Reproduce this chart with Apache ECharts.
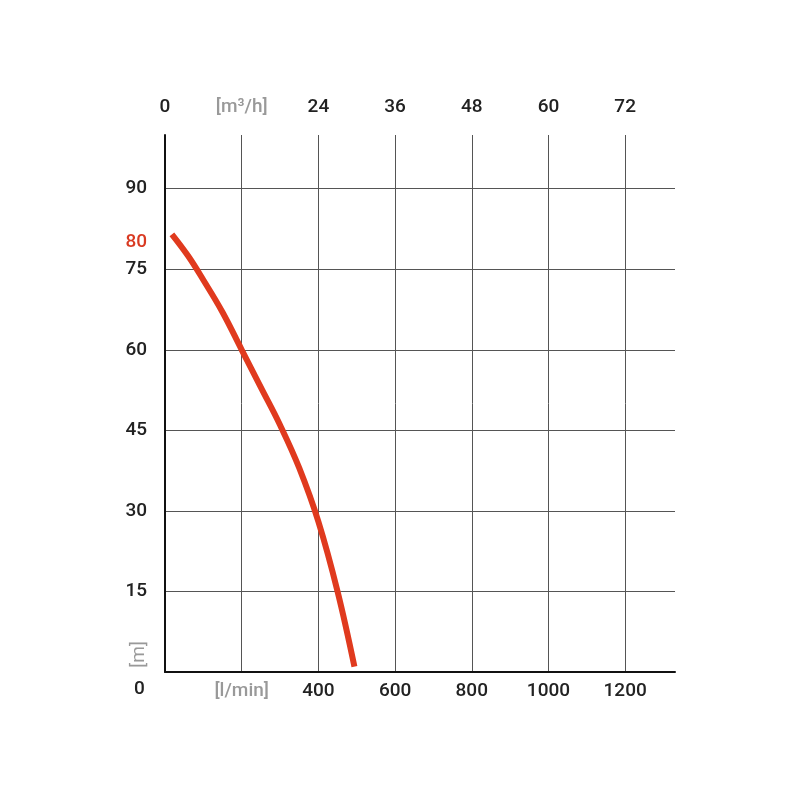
<!DOCTYPE html>
<html>
<head>
<meta charset="utf-8">
<script src="https://cdn.jsdelivr.net/npm/echarts@6/dist/echarts.min.js"></script>
<style>html,body{margin:0;background:#fff}</style>
</head>
<body>
<div id="chart" style="width:800px;height:800px;"></div>
<script>
// pump curve: flow [l/min] vs head [m]
var flowLmin = [18, 60, 100, 150, 200, 250, 300, 350, 400, 450, 494];
var headM = [81.5, 77.5, 73, 67, 60, 53, 46, 38, 28, 15, 1];
var topLabels = {0: '0', 200: '[m³/h]', 400: '24', 600: '36', 800: '48', 1000: '60', 1200: '72'};
var bottomLabels = {0: '', 200: '[l/min]', 400: '400', 600: '600', 800: '800', 1000: '1000', 1200: '1200'};

var chart = echarts.init(document.getElementById('chart'));
var font = 'Roboto';
chart.setOption({
    animation: false,
    grid: {left: 165, right: 125, top: 135, bottom: 128},
    xAxis: [
        {
            type: 'value', min: 0, max: 1330, interval: 200, position: 'bottom',
            axisLine: {lineStyle: {color: '#111', width: 2}},
            axisTick: {show: false},
            splitLine: {showMaxLine: false, lineStyle: {color: '#555', width: 1}},
            axisLabel: {
                margin: 10, fontFamily: font, fontSize: 19, fontWeight: 500, showMaxLabel: false,
                formatter: function (v) { return bottomLabels[v] || ''; },
                color: function (v) { return v == 200 ? '#999' : '#222'; }
            }
        },
        {
            type: 'value', min: 0, max: 1330, interval: 200, position: 'top',
            axisLine: {show: false}, axisTick: {show: false}, splitLine: {show: false},
            axisLabel: {
                margin: 18, fontFamily: font, fontSize: 19, fontWeight: 500, showMaxLabel: false,
                formatter: function (v) { return topLabels[v] || ''; },
                color: function (v) { return v == 200 ? '#999' : '#222'; }
            }
        }
    ],
    yAxis: [
        {
            type: 'value', min: 0, max: 100, interval: 15,
            axisLine: {show: true, lineStyle: {color: '#111', width: 2}},
            axisTick: {show: false},
            splitLine: {showMaxLine: false, lineStyle: {color: '#555', width: 1}},
            axisLabel: {
                margin: 18, fontFamily: font, fontSize: 19, fontWeight: 500, color: '#222', showMaxLabel: false,
                formatter: function (v) { return v === 0 ? '' : String(v); }
            }
        },
        {
            type: 'value', min: 0, max: 100, interval: 80, position: 'left',
            axisLine: {show: false}, axisTick: {show: false}, splitLine: {show: false},
            axisLabel: {
                margin: 18, fontFamily: font, fontSize: 19, fontWeight: 500, color: '#d93a22', showMaxLabel: false,
                formatter: function (v) { return v === 80 ? '80' : ''; }
            }
        }
    ],
    graphic: [
        {
            type: 'text', left: 130, top: 641, rotation: Math.PI / 2,
            style: {text: '[m]', fontFamily: font, fontSize: 19, fill: '#999'}
        },
        {
            type: 'text', left: 134, top: 680,
            style: {text: '0', fontFamily: font, fontSize: 19, fontWeight: 500, fill: '#222'}
        }
    ],
    series: [{
        type: 'line', smooth: 0.4, symbol: 'none',
        lineStyle: {color: '#e03a1e', width: 6},
        data: flowLmin.map(function (x, i) { return [x, headM[i]]; })
    }]
});
</script>
</body>
</html>
